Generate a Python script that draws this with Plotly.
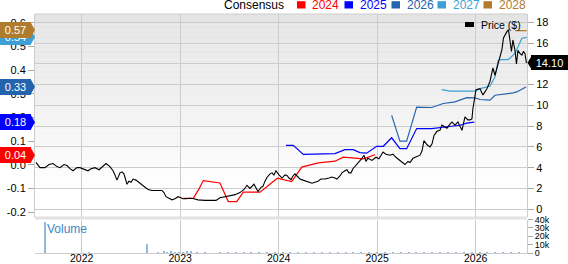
import plotly.graph_objects as go

# ---------------- data (x in decimal years) ----------------
price_t = [2021.536, 2021.577, 2021.627, 2021.668, 2021.709, 2021.749, 2021.780, 2021.820, 2021.851, 2021.881,
           2021.912, 2021.952, 2021.983, 2022.013, 2022.064, 2022.094, 2022.135, 2022.176, 2022.216, 2022.247,
           2022.287, 2022.318, 2022.338, 2022.358, 2022.389, 2022.409, 2022.429, 2022.460, 2022.480, 2022.501,
           2022.521, 2022.551, 2022.592, 2022.622, 2022.673, 2022.714, 2022.764, 2022.815, 2022.835, 2022.856,
           2022.896, 2022.916, 2022.947, 2022.978, 2023.008, 2023.028, 2023.059, 2023.100, 2023.140, 2023.181,
           2023.252, 2023.334, 2023.364, 2023.404, 2023.455, 2023.506, 2023.557, 2023.607, 2023.648, 2023.678,
           2023.708, 2023.749, 2023.769, 2023.790, 2023.820, 2023.840, 2023.861, 2023.881, 2023.912, 2023.932,
           2023.952, 2023.972, 2024.003, 2024.034, 2024.064, 2024.084, 2024.105, 2024.125, 2024.145, 2024.166,
           2024.196, 2024.216, 2024.247, 2024.287, 2024.318, 2024.338, 2024.368, 2024.399, 2024.429, 2024.470,
           2024.510, 2024.541, 2024.571, 2024.591, 2024.622, 2024.642, 2024.673, 2024.693, 2024.713, 2024.734,
           2024.754, 2024.774, 2024.805, 2024.825, 2024.845, 2024.866, 2024.886, 2024.906, 2024.947, 2024.988,
           2025.018, 2025.059, 2025.089, 2025.130, 2025.160, 2025.190, 2025.231, 2025.262, 2025.282, 2025.313,
           2025.333, 2025.363, 2025.394, 2025.435, 2025.455, 2025.475, 2025.506, 2025.536, 2025.557, 2025.577,
           2025.607, 2025.637, 2025.658, 2025.688, 2025.708, 2025.739, 2025.759, 2025.790, 2025.820, 2025.840,
           2025.861, 2025.891, 2025.921, 2025.942, 2025.962, 2025.972, 2026.003, 2026.043, 2026.074, 2026.094,
           2026.114, 2026.145, 2026.175, 2026.196, 2026.226, 2026.246, 2026.267, 2026.282, 2026.297, 2026.317,
           2026.333, 2026.348, 2026.363, 2026.378, 2026.399, 2026.414, 2026.429, 2026.449, 2026.469, 2026.485,
           2026.500, 2026.515]
price_v = [4.5, 4.0, 4.0, 4.3, 4.4, 4.1, 4.0, 4.3, 4.2, 3.9,
           3.7, 4.0, 4.0, 3.9, 3.7, 3.9, 4.0, 3.8, 4.1, 4.4,
           4.1, 3.7, 3.3, 2.8, 3.5, 3.6, 3.4, 2.4, 2.7, 2.6,
           2.9, 2.8, 2.5, 2.3, 1.9, 1.8, 1.8, 1.8, 1.6, 1.2,
           1.0, 0.9, 1.0, 1.2, 1.1, 1.0, 1.0, 1.05, 1.0, 0.9,
           0.85, 0.8, 0.85, 1.1, 1.2, 1.3, 1.4, 1.6, 1.9, 2.3,
           2.0, 2.4, 2.1, 1.7, 2.1, 2.2, 2.7, 3.05, 3.4, 3.5,
           3.3, 3.7, 3.3, 3.0, 3.3, 3.25, 3.0, 2.85, 3.2, 3.4,
           3.1, 2.9, 2.8, 2.7, 2.55, 2.5, 2.6, 2.7, 2.9, 2.9,
           3.0, 3.1, 3.0, 2.9, 3.2, 3.5, 3.7, 3.8, 3.5, 3.5,
           3.9, 4.1, 4.4, 4.6, 4.9, 5.2, 4.6, 4.9, 4.7, 5.0,
           4.85, 5.5, 5.3, 5.2, 5.3, 5.0, 4.7, 4.5, 4.3, 4.6,
           4.5, 4.9, 5.0, 5.2, 5.6, 6.6, 6.2, 6.0, 6.3, 7.1,
           7.5, 7.6, 8.1, 7.9, 7.8, 8.2, 8.4, 8.1, 8.4, 8.0,
           7.6, 8.9, 8.6, 8.6, 8.7, 9.7, 11.5, 11.6, 11.0, 11.3,
           11.6, 12.3, 13.6, 12.9, 13.9, 14.5, 15.4, 16.5, 16.8, 17.1,
           17.3, 16.4, 15.2, 16.3, 15.3, 14.0, 15.3, 15.0, 14.85, 15.2,
           15.0, 14.1]

eps2024_t = [2023.032, 2023.133, 2023.194, 2023.235, 2023.404, 2023.488, 2023.574, 2023.641, 2023.811,
             2023.986, 2024.132, 2024.234, 2024.402, 2024.572, 2024.656, 2024.859, 2024.978]
eps2024_v = [-0.142, -0.142, -0.10, -0.067, -0.077, -0.156, -0.156, -0.116, -0.116,
             -0.057, -0.071, -0.010, 0.008, 0.015, 0.032, 0.025, 0.042]

eps2025_t = [2024.074, 2024.148, 2024.250, 2024.572, 2024.673, 2024.757, 2024.825, 2024.893, 2024.995,
             2025.062, 2025.147, 2025.231, 2025.299, 2025.401, 2025.553, 2025.671, 2025.841, 2025.909, 2025.986]
eps2025_v = [0.082, 0.082, 0.044, 0.047, 0.064, 0.064, 0.051, 0.049, 0.078,
             0.078, 0.114, 0.068, 0.068, 0.153, 0.153, 0.160, 0.167, 0.176, 0.180]

eps2026_t = [2025.147, 2025.231, 2025.299, 2025.401, 2025.553, 2025.671, 2025.790, 2025.909, 2025.993,
             2026.044, 2026.145, 2026.196, 2026.382, 2026.416, 2026.511]
eps2026_v = [0.209, 0.100, 0.100, 0.244, 0.242, 0.259, 0.266, 0.284, 0.283,
             0.276, 0.273, 0.294, 0.304, 0.308, 0.329]

eps2027_t = [2025.655, 2025.739, 2025.993, 2026.044, 2026.145, 2026.196, 2026.229, 2026.264, 2026.331,
             2026.399, 2026.469, 2026.518]
eps2027_v = [0.318, 0.311, 0.311, 0.322, 0.332, 0.372, 0.442, 0.445, 0.445,
             0.471, 0.535, 0.539]

eps2028_t = [2026.399, 2026.518]
eps2028_v = [0.567, 0.567]

vol_t = [2021.55, 2021.59, 2021.627, 2021.67, 2021.72, 2021.78, 2021.84, 2021.90, 2021.96, 2022.02,
         2022.08, 2022.15, 2022.22, 2022.28, 2022.35, 2022.42, 2022.48, 2022.55, 2022.61, 2022.66,
         2022.72, 2022.78, 2022.84, 2022.87, 2022.91, 2022.95, 2022.99, 2023.03, 2023.07, 2023.11,
         2023.17, 2023.25, 2023.33, 2023.41, 2023.49, 2023.57, 2023.65, 2023.72, 2023.80, 2023.88,
         2023.96, 2024.04, 2024.12, 2024.20, 2024.28, 2024.36, 2024.44, 2024.52, 2024.60, 2024.68,
         2024.76, 2024.84, 2024.92, 2025.00, 2025.08, 2025.16, 2025.24, 2025.32, 2025.40, 2025.48,
         2025.56, 2025.64, 2025.72, 2025.80, 2025.88, 2025.96, 2026.04, 2026.12, 2026.20, 2026.28,
         2026.36, 2026.44]
vol_v = [400, 300, 38000, 500, 300, 400, 300, 500, 400, 300,
         1500, 400, 300, 500, 400, 300, 400, 600, 500, 11000,
         500, 700, 2500, 1500, 3000, 1200, 2000, 1500, 2500, 3500,
         800, 700, 600, 800, 700, 900, 800, 1000, 900, 1200,
         1500, 800, 700, 900, 800, 700, 900, 1000, 800, 900,
         1000, 1200, 900, 1000, 800, 900, 700, 800, 900, 1000,
         800, 900, 1100, 1000, 900, 800, 1000, 1200, 900, 800,
         1000, 900]

year_ticks = [2022, 2023, 2024, 2025, 2026]
eps_ticks = [-0.2, -0.1, 0.0, 0.1, 0.2, 0.3, 0.4, 0.5, 0.6]
vol_ticks = [0, 10000, 20000, 30000, 40000]
vol_tick_text = ["0", "10k", "20k", "30k", "40k"]

series_names = ["2024", "2025", "2026", "2027", "2028"]
series_colors = ["#ff0000", "#0000ff", "#2463ad", "#3d9fd3", "#b07b2c"]
last_eps = [0.04, 0.18, 0.33, 0.54, 0.57]
last_price = 14.10

# ---------------- geometry helpers (pixels -> paper) ----------------
W, H = 568, 264
L, R, T, B = 35, 41, 14, 11
PW, PH = W - L - R, H - T - B
def px(x):
    return (x - L) / PW
def py(y):
    return (H - B - y) / PH

FONT = "Liberation Sans, Arial, sans-serif"
GRID = "#cccccc"

fig = go.Figure()

eps_t = [eps2024_t, eps2025_t, eps2026_t, eps2027_t, eps2028_t]
eps_v = [eps2024_v, eps2025_v, eps2026_v, eps2027_v, eps2028_v]
for name, col, tt, vv in zip(series_names, series_colors, eps_t, eps_v):
    fig.add_trace(go.Scatter(x=tt, y=vv, mode="lines", name=name, yaxis="y",
                             line=dict(color=col, width=1.2), showlegend=False))

fig.add_trace(go.Scatter(x=price_t, y=price_v, mode="lines", name="Price ($)", yaxis="y2",
                         line=dict(color="#000000", width=1.1), showlegend=False))

fig.add_trace(go.Bar(x=vol_t, y=vol_v, yaxis="y3", width=0.012, name="Volume",
                     marker=dict(color="#8fbbe0", line=dict(width=0)), showlegend=False))

main_bottom = py(216.5)
vol_top = py(219.5)

shapes = []
# background gradient of main panel
n = 40
for i in range(n):
    y0 = main_bottom + (1 - main_bottom) * i / n
    y1 = main_bottom + (1 - main_bottom) * (i + 1) / n
    f = (i + 0.5) / n  # 0 bottom, 1 top
    g = int(round(255 - 27 * min(1.0, max(0.0, (f - 0.15) / 0.85)) ** 0.9))
    shapes.append(dict(type="rect", xref="paper", yref="paper", x0=0, x1=1, y0=y0, y1=y1,
                       fillcolor=f"rgb({g},{g},{g})", line=dict(width=0), layer="below"))
# band between panels
shapes.append(dict(type="rect", xref="paper", yref="paper", x0=0, x1=1, y0=vol_top, y1=main_bottom,
                   fillcolor="#e2e2e2", line=dict(width=0), layer="below"))
# top border
shapes.append(dict(type="line", xref="paper", yref="paper", x0=0, x1=1, y0=1, y1=1,
                   line=dict(color=GRID, width=1)))

annotations = []
# top legend
annotations.append(dict(text="Consensus", xref="paper", yref="paper", x=px(285.5), y=py(5.5),
                        xanchor="right", yanchor="middle", showarrow=False,
                        font=dict(family=FONT, size=12, color="#000")))
sq_x = [297, 344.5, 391.5, 437.5, 483.5]
for sx, name, col in zip(sq_x, series_names, series_colors):
    shapes.append(dict(type="rect", xref="paper", yref="paper", x0=px(sx), x1=px(sx + 8.5),
                       y0=py(8.5), y1=py(1.2), fillcolor=col, line=dict(width=0)))
    annotations.append(dict(text=name, xref="paper", yref="paper", x=px(sx + 13), y=py(5.5),
                            xanchor="left", yanchor="middle", showarrow=False,
                            font=dict(family=FONT, size=12, color=col)))

# price legend
shapes.append(dict(type="rect", xref="paper", yref="paper", x0=px(465), x1=px(474),
                   y0=py(27), y1=py(22), fillcolor="#000", line=dict(width=0)))
annotations.append(dict(text="Price ($)", xref="paper", yref="paper", x=px(478.5), y=py(25),
                        xanchor="left", yanchor="middle", showarrow=False,
                        font=dict(family=FONT, size=10.5, color="#000")))
# volume label
annotations.append(dict(text="Volume", xref="paper", yref="paper", x=px(45), y=py(229.5),
                        xanchor="left", yanchor="middle", showarrow=False,
                        font=dict(family=FONT, size=12, color="#3a86c6")))

# left value labels (draw lower-priority first)
order = [0, 1, 2, 3, 4]
for i in order:
    v, col = last_eps[i], series_colors[i]
    shapes.append(dict(type="path", xref="paper", yref="y", xsizemode="pixel", ysizemode="pixel",
                       xanchor=0, yanchor=v, path="M-4.5,8 L0,0 L-4.5,-8 Z",
                       fillcolor=col, line=dict(width=0)))
    annotations.append(dict(text=f"{v:.2f}", xref="paper", yref="y", x=px(15.3), y=v,
                            xanchor="center", yanchor="middle", showarrow=False,
                            width=27, height=12, borderpad=2, borderwidth=0, bgcolor=col,
                            font=dict(family=FONT, size=11, color="#fff")))
# right price label
shapes.append(dict(type="path", xref="paper", yref="y2", xsizemode="pixel", ysizemode="pixel",
                   xanchor=1, yanchor=last_price, path="M0.5,0 L5,7.5 L5,-7.5 Z",
                   fillcolor="#000", line=dict(width=0)))
annotations.append(dict(text=f"{last_price:.2f}", xref="paper", yref="y2", x=px(549.5), y=last_price,
                        xanchor="center", yanchor="middle", showarrow=False,
                        width=33, height=11, borderpad=2, borderwidth=0, bgcolor="#000",
                        font=dict(family=FONT, size=11, color="#fff")))

fig.update_layout(
    width=W, height=H, margin=dict(l=L, r=R, t=T, b=B, pad=0),
    paper_bgcolor="#ffffff", plot_bgcolor="#ffffff",
    font=dict(family=FONT, size=11, color="#000"),
    showlegend=False, bargap=0,
    xaxis=dict(range=[2021.526, 2026.521], tickvals=year_ticks, ticktext=[str(y) for y in year_ticks],
               showgrid=True, gridcolor=GRID, gridwidth=1, zeroline=False, anchor="y3",
               showline=True, linecolor=GRID, ticks="", tickfont=dict(size=10.5), automargin=False,
               ticklabelstandoff=-5),
    yaxis=dict(domain=[main_bottom, 1], range=[-0.219, 0.6376], tickvals=eps_ticks,
               ticktext=[f"{v:.1f}" for v in eps_ticks], showgrid=False, zeroline=False,
               ticks="outside", ticklen=6, tickcolor="#aaaaaa", showline=True, linecolor=GRID,
               tickfont=dict(size=11), automargin=False),
    yaxis2=dict(overlaying="y", side="right", range=[-0.705, 18.80], tick0=0, dtick=2,
                showgrid=True, gridcolor=GRID, gridwidth=1, zeroline=False,
                ticks="outside", ticklen=6, tickcolor="#aaaaaa", showline=True, linecolor=GRID,
                tickfont=dict(size=11), automargin=False),
    yaxis3=dict(domain=[0, vol_top], range=[0, 40000], side="right", anchor="x",
                tickvals=vol_ticks, ticktext=vol_tick_text, showgrid=False, zeroline=False,
                ticks="outside", ticklen=5, tickcolor="#aaaaaa", showline=True, linecolor=GRID,
                tickfont=dict(size=9), automargin=False),
    shapes=shapes, annotations=annotations,
)

fig.write_html("out.html")
